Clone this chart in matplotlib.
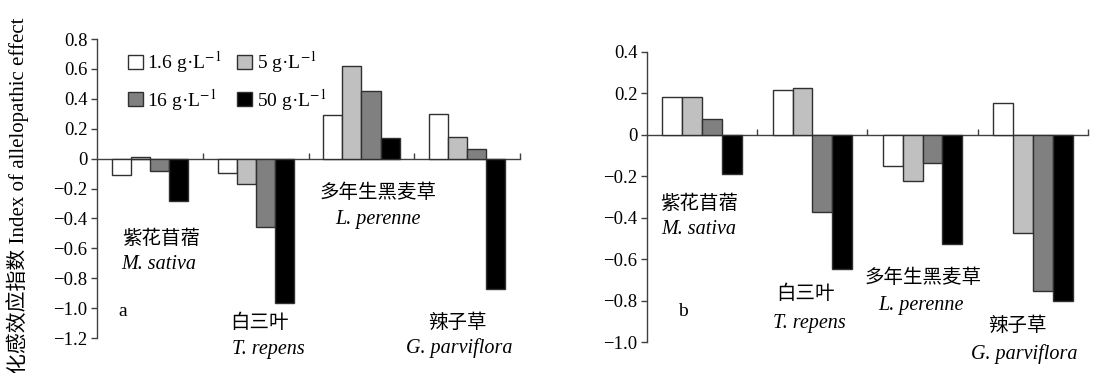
import matplotlib
matplotlib.use("Agg")
import matplotlib.pyplot as plt
import numpy as np
from matplotlib.patches import Patch

plt.rcParams['font.family'] = ['Liberation Serif', 'Noto Sans CJK SC']
plt.rcParams['mathtext.fontset'] = 'stix'
plt.rcParams['axes.unicode_minus'] = True

species_cn = ["紫花苜蓿", "白三叶", "多年生黑麦草", "辣子草"]
species_latin = ["M. sativa", "T. repens", "L. perenne", "G. parviflora"]
concentrations = ["1.6 g·L$^{-1}$", "5 g·L$^{-1}$", "16 g·L$^{-1}$", "50 g·L$^{-1}$"]
colors = ["#ffffff", "#c0c0c0", "#808080", "#000000"]

# panel a values, one list per concentration, one value per species
a_c16 = [-0.11, -0.095, 0.29, 0.30]
a_c5 = [0.01, -0.17, 0.62, 0.147]
a_c16b = [-0.085, -0.455, 0.45, 0.067]
a_c50 = [-0.285, -0.965, 0.135, -0.87]

# panel b values
b_c16 = [0.182, 0.217, -0.152, 0.156]
b_c5 = [0.182, 0.227, -0.224, -0.473]
b_c16b = [0.077, -0.373, -0.137, -0.755]
b_c50 = [-0.19, -0.649, -0.526, -0.80]

yticks_a = [0.8, 0.6, 0.4, 0.2, 0, -0.2, -0.4, -0.6, -0.8, -1.0, -1.2]
yticks_b = [0.4, 0.2, 0, -0.2, -0.4, -0.6, -0.8, -1.0]

fig = plt.figure(figsize=(10.99, 3.73), dpi=100)
axa = fig.add_axes([0.0883, 0.0938, 0.385, 0.8016])
axb = fig.add_axes([0.5887, 0.0831, 0.4013, 0.7775])

def fmt(v):
    if abs(v) < 1e-9:
        return "0"
    s = "%.1f" % v
    return s.replace("-", "\u2212")

def draw(ax, series, yticks, ylim, labelpos, letter, letterpos):
    x = np.arange(4) + 0.5
    w = 0.18
    for i, vals in enumerate(series):
        ax.bar(x + (i - 1.5) * w, vals, width=w, color=colors[i],
               edgecolor="#303030", linewidth=1.0, zorder=3)
    ax.set_xlim(0, 4)
    ax.set_ylim(*ylim)
    ax.spines['top'].set_visible(False)
    ax.spines['right'].set_visible(False)
    ax.spines['bottom'].set_position(('data', 0))
    for s in ['left', 'bottom']:
        ax.spines[s].set_color("#404040")
        ax.spines[s].set_linewidth(1.0)
    ax.set_xticks([1, 2, 3, 4])
    ax.set_xticklabels([])
    ax.tick_params(axis='x', direction='in', length=4, width=1.0, color="#404040")
    ax.set_yticks(yticks)
    ax.set_yticklabels([fmt(v) for v in yticks])
    ax.tick_params(axis='y', direction='out', length=4, width=1.0, color="#404040",
                   labelsize=13.5, pad=3)
    for k in range(4):
        (cx, cy), (lx, ly) = labelpos[k]
        ax.text(cx, cy, species_cn[k], ha='center', va='center', fontsize=14,
                family=['Noto Sans CJK SC'])
        ax.text(lx, ly, species_latin[k], ha='center', va='center', fontsize=14.5,
                style='italic')
    ax.text(letterpos[0], letterpos[1], letter, ha='center', va='center', fontsize=14)

labels_a = [((0.605, -0.535), (0.586, -0.709)),
            ((1.54, -1.097), (1.617, -1.278)),
            ((2.657, -0.227), (2.657, -0.408)),
            ((3.404, -1.097), (3.423, -1.264))]
labels_b = [((0.472, -0.329), (0.472, -0.459)),
            ((1.433, -0.768), (1.469, -0.913)),
            ((2.503, -0.691), (2.485, -0.826)),
            ((3.356, -0.918), (3.42, -1.058))]

draw(axa, [a_c16, a_c5, a_c16b, a_c50], yticks_a, (-1.2, 0.8), labels_a, "a", (0.246, -1.023))
draw(axb, [b_c16, b_c5, b_c16b, b_c50], yticks_b, (-1.0, 0.4), labels_b, "b", (0.327, -0.855))

handles = [Patch(facecolor=colors[i], edgecolor="#303030", linewidth=1.0) for i in range(4)]
order = [0, 2, 1, 3]
leg = axa.legend([handles[i] for i in order], [concentrations[i] for i in order],
                 ncol=2, frameon=False, fontsize=14,
                 loc='upper left', bbox_to_anchor=(128 / 1099, 1 - 49 / 373),
                 bbox_transform=fig.transFigure,
                 handlelength=0.75, handleheight=0.75, handletextpad=0.25,
                 columnspacing=0.8, labelspacing=0.6, borderaxespad=0, borderpad=0)

fig.text(18 / 1099, 1 - 196 / 373, "化感效应指数 Index of allelopathic effect",
         rotation=90, ha='center', va='center', fontsize=15,
         family=['Liberation Serif', 'Noto Sans CJK SC'])

fig.savefig("out.png", dpi=100)
